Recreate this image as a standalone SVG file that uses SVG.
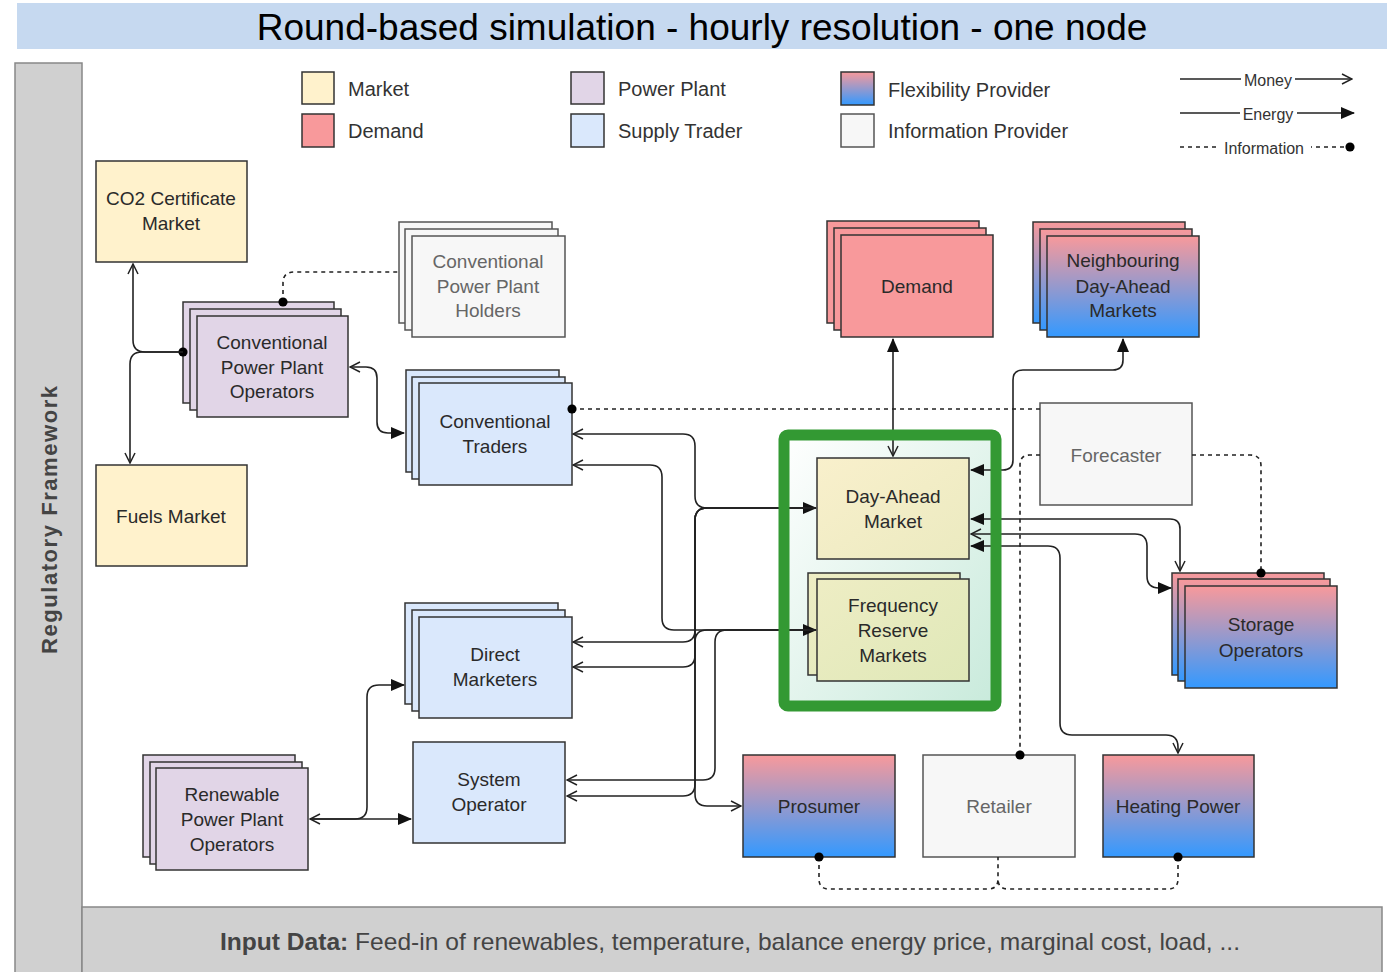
<svg xmlns="http://www.w3.org/2000/svg" width="1394" height="972" viewBox="0 0 1394 972">
<defs>
<linearGradient id="flex" x1="0" y1="0" x2="0" y2="1"><stop offset="0" stop-color="#f8999b"/><stop offset="1" stop-color="#3399ff"/></linearGradient>
<linearGradient id="boxbg" x1="0" y1="0" x2="1" y2="1"><stop offset="0" stop-color="#ffffff"/><stop offset="1" stop-color="#c8eadb"/></linearGradient>
<linearGradient id="dam" x1="0" y1="0" x2="1" y2="1"><stop offset="0" stop-color="#f9f0cc"/><stop offset="1" stop-color="#ebeac0"/></linearGradient>
<linearGradient id="frm" x1="0" y1="0" x2="1" y2="1"><stop offset="0" stop-color="#eeedc4"/><stop offset="1" stop-color="#dfe8b8"/></linearGradient>
<marker id="open" viewBox="0 0 12 12" refX="11" refY="6" markerWidth="12" markerHeight="12" markerUnits="userSpaceOnUse" orient="auto-start-reverse"><path d="M1,1 L11,6 L1,11" fill="none" stroke="#222" stroke-width="1.5"/></marker>
<marker id="fill" viewBox="0 0 14 14" refX="13" refY="7" markerWidth="14" markerHeight="14" markerUnits="userSpaceOnUse" orient="auto-start-reverse"><path d="M0,1 L14,7 L0,13 Z" fill="#111"/></marker>
<marker id="dot" viewBox="0 0 12 12" refX="6" refY="6" markerWidth="11" markerHeight="11" markerUnits="userSpaceOnUse"><circle cx="6" cy="6" r="5" fill="#000"/></marker>
</defs>
<style>
text{font-family:"Liberation Sans",Arial,sans-serif}
.n{stroke:#333;stroke-width:1.5}
.mk{fill:#fff2cc}
.dem{fill:#f8999b}
.pp{fill:#e1d5e7}
.st{fill:#dae8fc}
.fx{fill:url(#flex)}
.inf{fill:#f7f7f7;stroke:#555}
.t{font-size:19px;fill:#2a2a2a;text-anchor:middle}
.tg{font-size:19px;fill:#666;text-anchor:middle}
.lg{font-size:20px;fill:#333}
.c{fill:none;stroke:#222;stroke-width:1.6}
.d{fill:none;stroke:#222;stroke-width:1.6;stroke-dasharray:4 4}
</style>
<rect width="1394" height="972" fill="#fff"/>

<g id="title">
<rect x="17" y="3" width="1370" height="46" fill="#c6d9f0"/>
<text x="702" y="40" font-size="37" fill="#000" text-anchor="middle">Round-based simulation - hourly resolution - one node</text>
</g>

<g id="regulatory-framework">
<rect x="15" y="63" width="67" height="912" fill="#d0d0d0" stroke="#888" stroke-width="1.5"/>
<text transform="translate(57,520) rotate(-90)" font-size="22" font-weight="bold" fill="#444" text-anchor="middle" textLength="268">Regulatory Framework</text>
</g>

<g id="input-data">
<rect x="82" y="907" width="1300" height="70" fill="#d0d0d0" stroke="#888" stroke-width="1.5"/>
<text x="730" y="950" font-size="24" fill="#444" text-anchor="middle" textLength="1020" lengthAdjust="spacingAndGlyphs"><tspan font-weight="bold">Input Data:</tspan> Feed-in of renewables, temperature, balance energy price, marginal cost, load, ...</text>
</g>

<g id="legend">
<rect x="302" y="72" width="32" height="32" class="n mk"/><text x="348" y="96" class="lg">Market</text>
<rect x="302" y="114" width="32" height="33" class="n dem"/><text x="348" y="138" class="lg">Demand</text>
<rect x="571" y="72" width="33" height="32" class="n pp"/><text x="618" y="96" class="lg">Power Plant</text>
<rect x="571" y="114" width="33" height="33" class="n st"/><text x="618" y="138" class="lg">Supply Trader</text>
<rect x="841" y="72" width="33" height="33" class="n fx"/><text x="888" y="97" class="lg">Flexibility Provider</text>
<rect x="841" y="114" width="33" height="33" class="n inf"/><text x="888" y="138" class="lg">Information Provider</text>
<path d="M1180,79 H1352" class="c" marker-end="url(#open)"/>
<rect x="1241" y="70" width="54" height="18" fill="#fff"/><text x="1268" y="86" font-size="16" fill="#333" text-anchor="middle">Money</text>
<path d="M1180,113 H1354" class="c" marker-end="url(#fill)"/>
<rect x="1240" y="104" width="57" height="18" fill="#fff"/><text x="1268" y="120" font-size="16" fill="#333" text-anchor="middle">Energy</text>
<path d="M1180,147 H1350" class="d" marker-end="url(#dot)"/>
<rect x="1218" y="138" width="93" height="18" fill="#fff"/><text x="1264" y="154" font-size="16" fill="#333" text-anchor="middle">Information</text>
</g>

<g id="market-area-fill">
<rect x="784" y="435" width="212" height="271" rx="4" fill="url(#boxbg)"/>
</g>

<g id="co2-market">
<rect x="96" y="161" width="151" height="101" class="n mk"/>
<text x="171" y="205" class="t">CO2 Certificate</text><text x="171" y="230" class="t">Market</text>
</g>
<g id="fuels-market">
<rect x="96" y="465" width="151" height="101" class="n mk"/>
<text x="171" y="523" class="t">Fuels Market</text>
</g>
<g id="conv-pp-operators">
<rect x="183" y="302" width="151" height="101" class="n pp"/>
<rect x="190" y="309" width="151" height="101" class="n pp"/>
<rect x="197" y="316" width="151" height="101" class="n pp"/>
<text x="272" y="349" class="t">Conventional</text><text x="272" y="374" class="t">Power Plant</text><text x="272" y="398" class="t">Operators</text>
</g>
<g id="conv-pp-holders">
<rect x="399" y="222" width="153" height="101" class="n inf"/>
<rect x="405" y="229" width="153" height="101" class="n inf"/>
<rect x="412" y="236" width="153" height="101" class="n inf"/>
<text x="488" y="268" class="tg">Conventional</text><text x="488" y="293" class="tg">Power Plant</text><text x="488" y="317" class="tg">Holders</text>
</g>
<g id="conv-traders">
<rect x="406" y="370" width="153" height="102" class="n st"/>
<rect x="412" y="377" width="153" height="102" class="n st"/>
<rect x="419" y="383" width="153" height="102" class="n st"/>
<text x="495" y="428" class="t">Conventional</text><text x="495" y="453" class="t">Traders</text>
</g>
<g id="direct-marketers">
<rect x="405" y="603" width="153" height="101" class="n st"/>
<rect x="412" y="610" width="153" height="101" class="n st"/>
<rect x="419" y="617" width="153" height="101" class="n st"/>
<text x="495" y="661" class="t">Direct</text><text x="495" y="686" class="t">Marketers</text>
</g>
<g id="system-operator">
<rect x="413" y="742" width="152" height="101" class="n st"/>
<text x="489" y="786" class="t">System</text><text x="489" y="811" class="t">Operator</text>
</g>
<g id="renewable-pp-operators">
<rect x="143" y="755" width="152" height="102" class="n pp"/>
<rect x="150" y="762" width="152" height="102" class="n pp"/>
<rect x="156" y="768" width="152" height="102" class="n pp"/>
<text x="232" y="801" class="t">Renewable</text><text x="232" y="826" class="t">Power Plant</text><text x="232" y="851" class="t">Operators</text>
</g>
<g id="demand">
<rect x="827" y="221" width="152" height="102" class="n dem"/>
<rect x="834" y="228" width="152" height="102" class="n dem"/>
<rect x="841" y="235" width="152" height="102" class="n dem"/>
<text x="917" y="293" class="t">Demand</text>
</g>
<g id="neighbouring-markets">
<rect x="1033" y="222" width="152" height="101" class="n fx"/>
<rect x="1040" y="229" width="152" height="101" class="n fx"/>
<rect x="1047" y="236" width="152" height="101" class="n fx"/>
<text x="1123" y="267" class="t">Neighbouring</text><text x="1123" y="293" class="t">Day-Ahead</text><text x="1123" y="317" class="t">Markets</text>
</g>
<g id="forecaster">
<rect x="1040" y="403" width="152" height="102" class="n inf"/>
<text x="1116" y="462" class="tg">Forecaster</text>
</g>
<g id="day-ahead-market">
<rect x="817" y="458" width="152" height="101" class="n" fill="url(#dam)"/>
<text x="893" y="503" class="t">Day-Ahead</text><text x="893" y="528" class="t">Market</text>
</g>
<g id="frequency-reserve-markets">
<rect x="808" y="573" width="152" height="102" class="n" fill="url(#frm)"/>
<rect x="817" y="579" width="152" height="102" class="n" fill="url(#frm)"/>
<text x="893" y="612" class="t">Frequency</text><text x="893" y="637" class="t">Reserve</text><text x="893" y="662" class="t">Markets</text>
</g>
<g id="storage-operators">
<rect x="1172" y="573" width="152" height="102" class="n fx"/>
<rect x="1178" y="579" width="152" height="102" class="n fx"/>
<rect x="1185" y="586" width="152" height="102" class="n fx"/>
<text x="1261" y="631" class="t">Storage</text><text x="1261" y="657" class="t">Operators</text>
</g>
<g id="prosumer">
<rect x="743" y="755" width="152" height="102" class="n fx"/>
<text x="819" y="813" class="t">Prosumer</text>
</g>
<g id="retailer">
<rect x="923" y="755" width="152" height="102" class="n inf"/>
<text x="999" y="813" class="tg">Retailer</text>
</g>
<g id="heating-power">
<rect x="1103" y="755" width="151" height="102" class="n fx"/>
<text x="1178" y="813" class="t">Heating Power</text>
</g>

<g id="connectors">
<path d="M183,352 H145 Q133,352 133,340 V264" class="c" marker-start="url(#dot)" marker-end="url(#open)"/>
<path d="M183,352 H142 Q130,352 130,364 V463" class="c" marker-end="url(#open)"/>
<path d="M283,302 V283 Q283,272 294,272 H399" class="d" marker-start="url(#dot)"/>
<path d="M350,367 H366 Q377,367 377,378 V422 Q377,433 388,433 H404" class="c" marker-start="url(#open)" marker-end="url(#fill)"/>
<path d="M572,409 H1040" class="d" marker-start="url(#dot)"/>
<path d="M573,434 H683 Q695,434 695,446 V496 Q695,508 707,508 H816" class="c" marker-start="url(#open)" marker-end="url(#fill)"/>
<path d="M573,465 H650 Q662,465 662,477 V618 Q662,630 674,630 H816" class="c" marker-start="url(#open)" marker-end="url(#fill)"/>
<path d="M573,642 H683 Q695,642 695,630 V520 Q695,508 707,508 H816" class="c" marker-start="url(#open)"/>
<path d="M573,667 H683 Q695,667 695,655 V642 Q695,630 707,630 H816" class="c" marker-start="url(#open)"/>
<path d="M567,780 H703 Q715,780 715,768 V642 Q715,630 727,630 H816" class="c" marker-start="url(#open)"/>
<path d="M567,796 H683 Q695,796 695,784 V520 Q695,508 707,508 H816" class="c" marker-start="url(#open)"/>
<path d="M707,508 Q695,508 695,520 V794 Q695,806 707,806 H741" class="c" marker-end="url(#open)"/>
<path d="M893,339 V456" class="c" marker-start="url(#fill)" marker-end="url(#open)"/>
<path d="M971,470 H1003 Q1013,470 1013,460 V380 Q1013,370 1023,370 H1113 Q1123,370 1123,360 V339" class="c" marker-start="url(#fill)" marker-end="url(#fill)"/>
<path d="M971,519 H1170 Q1180,519 1180,529 V571" class="c" marker-start="url(#fill)" marker-end="url(#open)"/>
<path d="M971,534 H1135 Q1147,534 1147,546 V576 Q1147,588 1159,588 H1171" class="c" marker-start="url(#open)" marker-end="url(#fill)"/>
<path d="M971,546 H1048 Q1060,546 1060,558 V723 Q1060,735 1072,735 H1166 Q1178,735 1178,747 V753" class="c" marker-start="url(#fill)" marker-end="url(#open)"/>
<path d="M1192,455 H1250 Q1261,455 1261,466 V573" class="d" marker-end="url(#dot)"/>
<path d="M1040,455 H1030 Q1020,455 1020,465 V755" class="d" marker-end="url(#dot)"/>
<path d="M819,857 V879 Q819,889 829,889 H988 Q998,889 998,879 V857" class="d" marker-start="url(#dot)"/>
<path d="M1178,857 V879 Q1178,889 1168,889 H1008 Q998,889 998,879" class="d" marker-start="url(#dot)"/>
<path d="M310,819 H355 Q367,819 367,807 V697 Q367,685 379,685 H404" class="c" marker-start="url(#open)" marker-end="url(#fill)"/>
<path d="M310,819 H411" class="c" marker-end="url(#fill)"/>
</g>

<g id="market-area-border">
<rect x="784" y="435" width="212" height="271" rx="4" fill="none" stroke="#339933" stroke-width="11"/>
</g>
</svg>
